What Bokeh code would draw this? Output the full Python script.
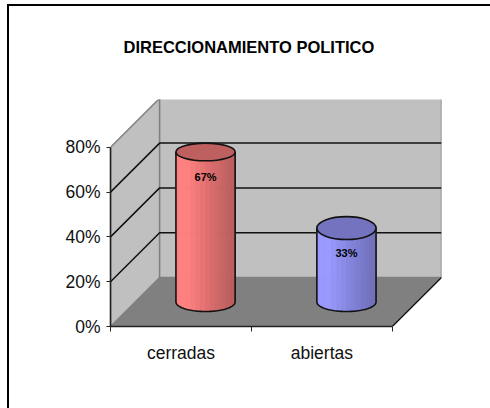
from bokeh.plotting import figure
from bokeh.embed import file_html
from bokeh.resources import INLINE
from bokeh.core.properties import value
from bokeh.models import LinearAxis, FixedTicker, Range1d
import numpy as np

title = "DIRECCIONAMIENTO POLITICO"
categories = ["cerradas", "abiertas"]
values = [67, 33]
labels = ["67%", "33%"]
y_ticks = [0, 20, 40, 60, 80]
y_labels = ["0%", "20%", "40%", "60%", "80%"]
side_colors = [(255, 128, 128), (153, 153, 255)]
top_colors = ["#bf6060", "#7373bf"]

FONT = "Liberation Sans"
PX_CAT = 140.5
PX_VAL = 2.24
DX = 49 / PX_CAT
DY = 49 / PX_VAL
W, H = 490, 408
FL, FR, FT, FB = 111, 441, 99, 326
p = figure(width=W - 7, height=H - 4, output_backend="svg", toolbar_location=None,
           x_axis_type=None, y_axis_type=None,
           x_range=Range1d(0, (FR - FL) / PX_CAT), y_range=Range1d(0, (FB - FT) / PX_VAL),
           min_border_left=FL - 10, min_border_right=W - FR + 2, min_border_top=FT - 6, min_border_bottom=H - FB + 2,
           background_fill_color="white", border_fill_color="white", outline_line_color=None)
p.margin = (4, 0, 0, 7)
p.styles = {"border-top": "2px solid #000", "border-left": "2px solid #000", "box-sizing": "border-box"}
p.grid.visible = False

cat_end = len(categories)
v_max = y_ticks[-1]
GRAY = "#808080"
# walls and floor
p.patch([0, DX, DX, 0], [0, DY, DY + v_max, v_max], fill_color="#c0c0c0", line_color=GRAY, line_width=1.5)
p.patch([DX, DX + cat_end, DX + cat_end, DX], [DY, DY, DY + v_max, DY + v_max], fill_color="#c0c0c0", line_color=GRAY, line_width=1.5)
p.patch([0, DX, DX + cat_end, cat_end], [0, DY, DY, 0], fill_color=GRAY, line_color=GRAY)
# gridlines
for t in y_ticks[1:-1]:
    p.line([0, DX, DX + cat_end], [t, DY + t, DY + t], line_color="#111111", line_width=1.5)
p.line([cat_end, cat_end + DX], [0, DY], line_color="#111111", line_width=1.3)

# cylinders
RX = 29.5 / PX_CAT
RY_BASE = 9.5 / PX_VAL
RY_TOPS = [8.8 / PX_VAL, 11.5 / PX_VAL]
N = 24
shade = [1.0, 1.0, 1.0, 1.0, 1.0, 1.0, .97, .97, .94, .94, .91, .91, .88, .88, .85, .85, .82, .82, .79, .79, .76, .76, .74, .74]
for i, (v, (r, g, b), top, txt) in enumerate(zip(values, side_colors, top_colors, labels)):
    cx = i + 0.5 + DX / 2
    cy = DY / 2
    ts = np.linspace(-1, 1, N + 1)
    xs_all, ys_all, cols = [], [], []
    ry_top = RY_TOPS[i]
    for k in range(N):
        a, b2 = ts[k], ts[k + 1]
        xa, xb = cx + RX * a, cx + RX * b2
        ya = cy - RY_BASE * np.sqrt(1 - a * a)
        yb = cy - RY_BASE * np.sqrt(1 - b2 * b2)
        xs_all.append([xa, xb, xb, xa])
        ys_all.append([ya, yb, cy + v, cy + v])
        f = shade[k]
        cols.append("#%02x%02x%02x" % (int(r * f), int(g * f), int(b * f)))
    p.patches(xs_all, ys_all, fill_color=cols, line_color=cols, line_width=0.8)
    t = np.linspace(np.pi, 2 * np.pi, 60)
    ox = list(cx + RX * np.cos(t))
    oy = list(cy + RY_BASE * np.sin(t))
    p.line([cx - RX] + ox + [cx + RX], [cy + v] + oy + [cy + v], line_color="#111111", line_width=1.6)
    p.ellipse(x=[cx], y=[cy + v], width=[2 * RX], height=[2 * ry_top], fill_color=top, line_color="#111111", line_width=1.6)
    p.text([cx], [cy + v - 25 / PX_VAL], text=[txt], text_align="center", text_baseline="middle",
           text_font_size="11px", text_font_style="bold", text_color="black",
           text_font=value(FONT))

# axes
yax = LinearAxis(ticker=FixedTicker(ticks=y_ticks), bounds=(0, v_max),
                 major_label_overrides={t: s for t, s in zip(y_ticks, y_labels)})
yax.axis_line_color = "#222222"
yax.axis_line_width = 1.6
yax.major_tick_line_color = "#222222"
yax.major_tick_in = 0
yax.major_tick_out = 4
yax.minor_tick_line_color = None
yax.major_label_text_font = FONT
yax.major_label_text_font_size = "17.5px"
yax.major_label_text_color = "#111111"
yax.major_label_standoff = 6
p.add_layout(yax, "left")

xt = LinearAxis(ticker=FixedTicker(ticks=[0, 1, 2]), bounds=(0, cat_end),
                major_label_overrides={0: "", 1: "", 2: ""})
xt.axis_line_color = "#222222"
xt.axis_line_width = 1.6
xt.major_tick_line_color = "#222222"
xt.major_tick_in = 0
xt.major_tick_out = 5
xt.minor_tick_line_color = None
xt.major_label_text_font_size = "1px"
xt.major_label_standoff = 0
p.add_layout(xt, "below")
xl = LinearAxis(ticker=FixedTicker(ticks=[0.5, 1.5]), bounds=(0, cat_end),
                major_label_overrides={0.5: categories[0], 1.5: categories[1]})
xl.axis_line_color = None
xl.major_tick_line_color = None
xl.minor_tick_line_color = None
xl.major_tick_out = 0
xl.major_tick_in = 0
xl.major_label_text_font = FONT
xl.major_label_text_font_size = "17.5px"
xl.major_label_text_color = "#111111"
xl.major_label_standoff = 11
p.add_layout(xl, "below")

# the title sits above the plot as the single tick label of a bare axis
title_x = (249 - FL) / PX_CAT
tax = LinearAxis(ticker=FixedTicker(ticks=[title_x]), major_label_overrides={title_x: title})
tax.axis_line_color = None
tax.major_tick_line_color = None
tax.minor_tick_line_color = None
tax.major_tick_out = 0
tax.major_tick_in = 0
tax.major_label_standoff = 44
tax.major_label_text_font = FONT
tax.major_label_text_font_size = "16.5px"
tax.major_label_text_font_style = "bold"
tax.major_label_text_color = "black"
p.add_layout(tax, "above")

open("out.html", "w").write(file_html(p, INLINE))
